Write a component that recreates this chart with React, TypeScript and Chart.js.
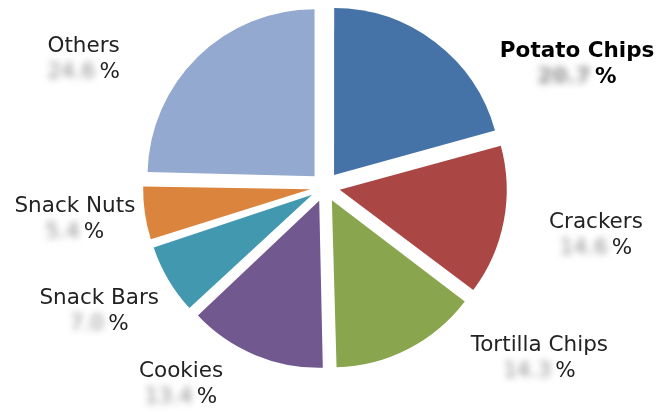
import React, { useEffect, useRef } from "react";
import { Chart, registerables } from "chart.js";

Chart.register(...registerables);

// ---- data ----
const categories = [
  "Potato Chips",
  "Crackers",
  "Tortilla Chips",
  "Cookies",
  "Snack Bars",
  "Snack Nuts",
  "Others",
];
const shares = [20.7, 14.6, 14.3, 13.4, 7.0, 5.4, 24.6];
const highlighted = "Potato Chips";

// ---- styles / layout ----
const colors = ["#4572A7", "#AA4643", "#89A54E", "#71588F", "#4198AF", "#DB843D", "#93A9CF"];
const RADIUS = 167;
const EXPLODE = 60; // chart.js translates each slice by offset / 4 px
const LABEL_NUDGE_DEG = [26.3, -1.1, -24.6, 13.7, 2.2, 1.5, -17.4];
const LABEL_DIST = [1.686, 1.646, 1.634, 1.453, 1.537, 1.508, 1.642];
const FONT_FAMILY = "'DejaVu Sans', Verdana, sans-serif";
const FONT_SIZE = 21.5;
const LINE_GAP = 26;
const TEXT_DY = 2.5;

// chart.js enlarges narrow exploded slices; undo that so all share one radius
const keepRadius = {
  id: "keepRadius",
  afterDatasetsUpdate(chart: any) {
    const meta = chart.getDatasetMeta(0);
    meta.data.forEach((arc: any) => {
      const off = ((arc.options && arc.options.offset) || 0) / 4;
      const fix = 1 - Math.sin(Math.min(Math.PI, arc.circumference || 0));
      arc.outerRadius = arc.outerRadius - off * fix;
    });
  },
};

const sliceLabels = {
  id: "sliceLabels",
  afterDraw(chart: any) {
    const ctx: CanvasRenderingContext2D = chart.ctx;
    const meta = chart.getDatasetMeta(0);
    meta.data.forEach((arc: any, i: number) => {
      const { x, y, startAngle, endAngle } = arc;
      const mid = (startAngle + endAngle) / 2 + Math.PI / 2; // clockwise from top
      const a = mid + (LABEL_NUDGE_DEG[i] * Math.PI) / 180;
      const R = RADIUS * LABEL_DIST[i];
      const lx = x + R * Math.sin(a);
      const ly = y - R * Math.cos(a) + TEXT_DY;
      const bold = categories[i] === highlighted;
      const weight = bold ? "bold " : "";
      ctx.save();
      ctx.font = `${weight}${FONT_SIZE}px ${FONT_FAMILY}`;
      ctx.textBaseline = "middle";
      ctx.textAlign = "center";
      ctx.fillStyle = bold ? "#000" : "#222";
      ctx.fillText(categories[i], lx, ly - LINE_GAP / 2);

      const num = shares[i].toFixed(1);
      const numW = ctx.measureText(num).width;
      const sp = ctx.measureText(" ").width * 0.6;
      const pctW = ctx.measureText("%").width;
      const total = numW + sp + pctW;
      const left = lx - total / 2;
      ctx.textAlign = "left";
      ctx.save();
      ctx.filter = "blur(3.5px)";
      ctx.fillStyle = "#8a8a8a";
      ctx.fillText(num, left, ly + LINE_GAP / 2);
      ctx.restore();
      ctx.fillText("%", left + numW + sp, ly + LINE_GAP / 2);
      ctx.restore();
    });
  },
};

export default function App() {
  const ref = useRef<HTMLCanvasElement | null>(null);
  useEffect(() => {
    document.body.style.margin = "0";
    if (!ref.current) return;
    const chart = new Chart(ref.current, {
      type: "pie",
      data: {
        labels: categories,
        datasets: [
          {
            data: shares,
            backgroundColor: colors,
            borderWidth: 0,
            offset: EXPLODE,
          },
        ],
      },
      options: {
        responsive: false,
        animation: false,
        events: [],
        radius: RADIUS,
        layout: { padding: { left: 0, right: 7, top: 0, bottom: 40 } },
        plugins: {
          legend: { display: false },
          tooltip: { enabled: false },
        },
      } as any,
      plugins: [keepRadius, sliceLabels],
    });
    return () => chart.destroy();
  }, []);
  return (
    <div style={{ position: "absolute", left: 0, top: 0, width: 657, height: 414, background: "#fff" }}>
      <canvas ref={ref} width={657} height={414} />
    </div>
  );
}
